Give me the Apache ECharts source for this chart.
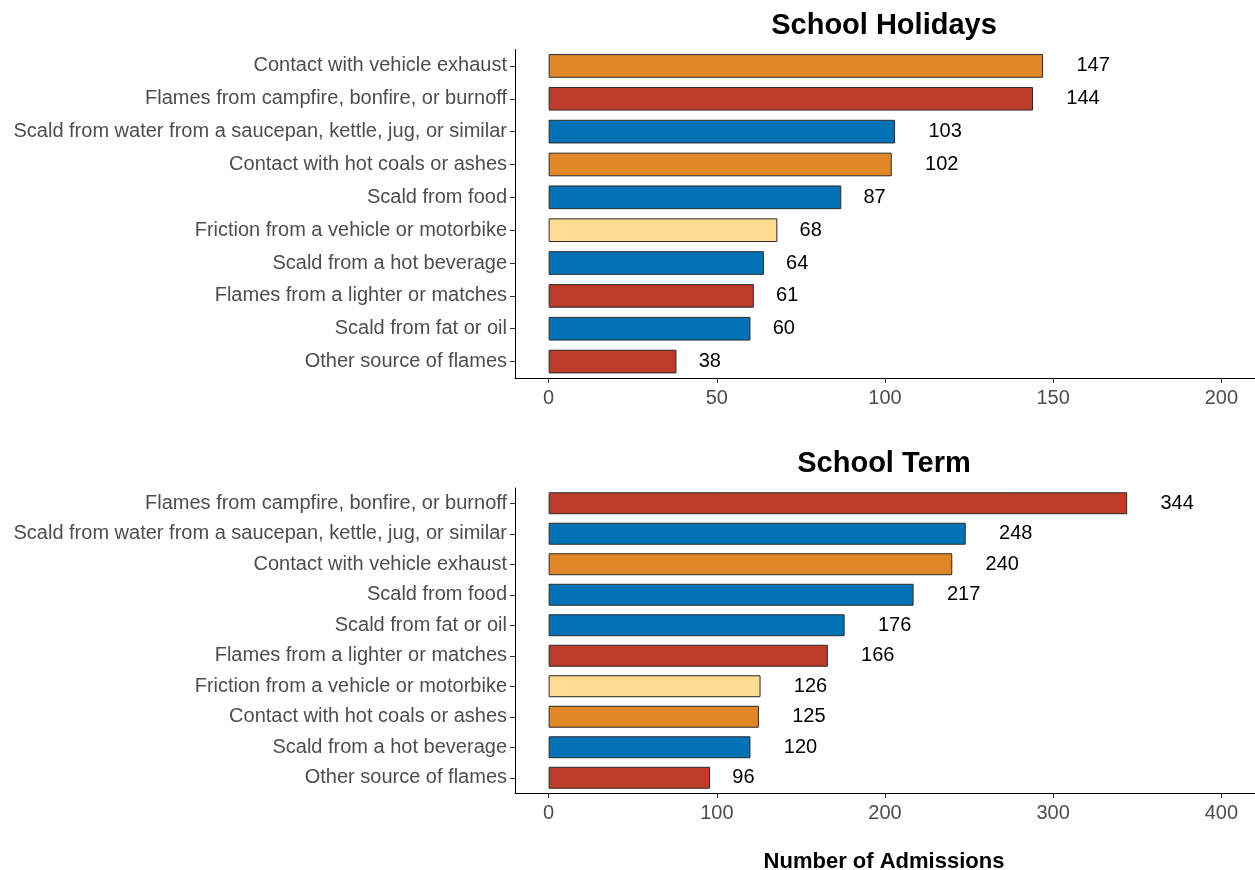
<!DOCTYPE html>
<html>
<head>
<meta charset="utf-8">
<title>Burn admissions</title>
<script src="https://cdn.jsdelivr.net/npm/echarts@6/dist/echarts.min.js"></script>
<style>
html, body { margin: 0; padding: 0; background: #fff; }
#chart { width: 1255px; height: 870px; }
</style>
</head>
<body>
<div id="chart"></div>
<script>
"use strict";

/* data */
var holidayCats = [
	'Contact with vehicle exhaust',
	'Flames from campfire, bonfire, or burnoff',
	'Scald from water from a saucepan, kettle, jug, or similar',
	'Contact with hot coals or ashes',
	'Scald from food',
	'Friction from a vehicle or motorbike',
	'Scald from a hot beverage',
	'Flames from a lighter or matches',
	'Scald from fat or oil',
	'Other source of flames'
];
var holidayVals = [147, 144, 103, 102, 87, 68, 64, 61, 60, 38];

var termCats = [
	'Flames from campfire, bonfire, or burnoff',
	'Scald from water from a saucepan, kettle, jug, or similar',
	'Contact with vehicle exhaust',
	'Scald from food',
	'Scald from fat or oil',
	'Flames from a lighter or matches',
	'Friction from a vehicle or motorbike',
	'Contact with hot coals or ashes',
	'Scald from a hot beverage',
	'Other source of flames'
];
var termVals = [344, 248, 240, 217, 176, 166, 126, 125, 120, 96];

var holidayTicks = [0, 50, 100, 150, 200];
var termTicks = [0, 100, 200, 300, 400];

/* styles */
var FONT = '"Liberation Sans", Arial, sans-serif';
var mechColors = {
	Contact: '#E18727',
	Flames: '#BC3C29',
	Other: '#BC3C29',
	Scald: '#0072B5',
	Friction: '#FFDC91'
};

function barData(cats, vals) {
	return vals.map(function (v, i) {
		var mech = cats[i].split(' ')[0];
		return {
			value: v,
			itemStyle: { color: mechColors[mech] || '#BC3C29' },
			// ggplot hjust = -1: gap equals the width of the label
			label: { distance: String(v).length * 11.1 }
		};
	});
}

function yAxisCfg(idx, cats) {
	return {
		type: 'category',
		gridIndex: idx,
		data: cats,
		inverse: true,
		axisLine: { show: true, onZero: false, lineStyle: { color: '#000', width: 1 } },
		axisTick: { show: true, alignWithLabel: true, length: 5, lineStyle: { color: '#333' } },
		axisLabel: { fontSize: 20, color: '#4D4D4D', fontFamily: FONT, margin: 8, padding: [6, 0, 0, 0] },
		splitLine: { show: false }
	};
}

function xAxisCfg(idx, lo, hi, ticks) {
	return {
		type: 'value',
		gridIndex: idx,
		min: lo,
		max: hi,
		axisLine: { show: true, onZero: false, lineStyle: { color: '#000', width: 1 } },
		axisTick: { show: true, length: 5, customValues: ticks, lineStyle: { color: '#333' } },
		axisLabel: { fontSize: 20, color: '#4D4D4D', fontFamily: FONT, margin: 10, customValues: ticks },
		splitLine: { show: false }
	};
}

function seriesCfg(idx, cats, vals) {
	return {
		type: 'bar',
		xAxisIndex: idx,
		yAxisIndex: idx,
		barWidth: '72%',
		data: barData(cats, vals),
		itemStyle: { borderColor: '#2b2b2b', borderWidth: 1 },
		label: {
			show: true,
			position: 'right',
			color: '#000',
			fontSize: 20,
			fontFamily: FONT,
			padding: [8, 0, 0, 0]
		},
		animation: false
	};
}

var myChart = echarts.init(document.getElementById('chart'));
var option = {
	animation: false,
	grid: [
		{ left: 515, right: 0, top: 49.5, height: 328.5 },
		{ left: 515, right: 0, top: 488, height: 305 }
	],
	xAxis: [
		xAxisCfg(0, -10, 210, holidayTicks),
		xAxisCfg(1, -20, 420, termTicks)
	],
	yAxis: [
		yAxisCfg(0, holidayCats),
		yAxisCfg(1, termCats)
	],
	series: [
		seriesCfg(0, holidayCats, holidayVals),
		seriesCfg(1, termCats, termVals)
	],
	graphic: [
		{
			type: 'text', x: 884, y: 26,
			style: { text: 'School Holidays', textAlign: 'center', textVerticalAlign: 'middle',
				font: 'bold 29px ' + FONT, fill: '#000' }
		},
		{
			type: 'text', x: 884, y: 464,
			style: { text: 'School Term', textAlign: 'center', textVerticalAlign: 'middle',
				font: 'bold 29px ' + FONT, fill: '#000' }
		},
		{
			type: 'text', x: 884, y: 862,
			style: { text: 'Number of Admissions', textAlign: 'center', textVerticalAlign: 'middle',
				font: 'bold 22px ' + FONT, fill: '#000' }
		}
	]
};
myChart.setOption(option);
</script>
</body>
</html>
